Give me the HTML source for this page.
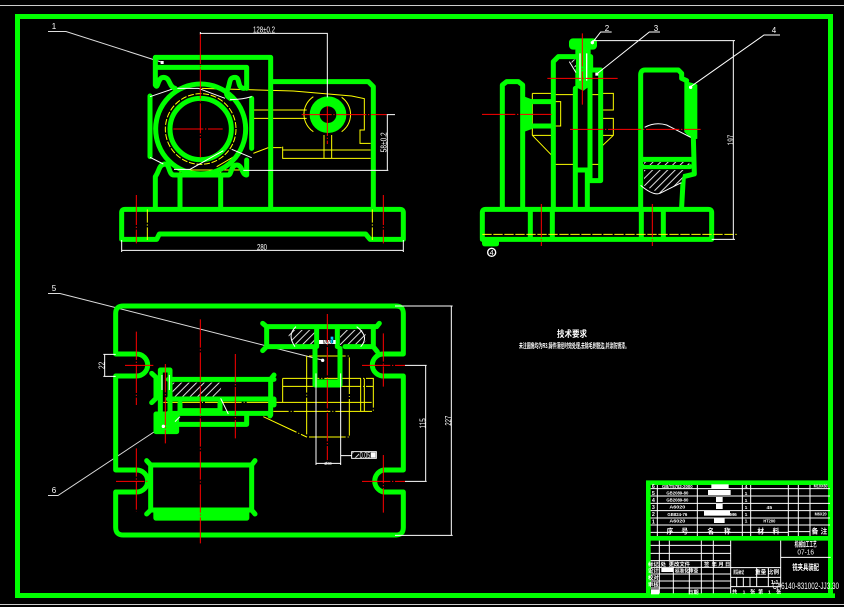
<!DOCTYPE html>
<html><head><meta charset="utf-8"><style>
html,body{margin:0;padding:0;background:#000;width:844px;height:607px;overflow:hidden}
svg{display:block}
text{font-family:"Liberation Sans","Noto Sans CJK SC",sans-serif;fill:#fff;text-anchor:middle}
.g{fill:none;stroke:#0f0;stroke-width:15;stroke-linecap:round;stroke-linejoin:round}
.f{fill:#0f0;stroke:#0f0;stroke-width:4;stroke-linejoin:round}
.w{fill:none;stroke:#fff;stroke-width:3}
.y{fill:none;stroke:#ff0;stroke-width:3}
.r{fill:none;stroke:#f00;stroke-width:3}
.rd{fill:none;stroke:#f00;stroke-width:3;stroke-dasharray:70 6 3 6}
.yd{fill:none;stroke:#ff0;stroke-width:3;stroke-dasharray:18 5}
.t{font-size:24px}
</style></head><body>
<svg width="844" height="607" viewBox="0 0 844 607" xmlns="http://www.w3.org/2000/svg">
<defs>
<pattern id="h" width="16" height="16" patternUnits="userSpaceOnUse" patternTransform="rotate(45)"><rect width="16" height="16" fill="#000"/><rect width="3" height="16" fill="#ddd"/></pattern>
</defs>
<rect width="844" height="607" fill="#000"/>
<line x1="0" y1="5.5" x2="844" y2="5.5" stroke="#ccc" stroke-width="1"/>
<line x1="0" y1="604.5" x2="844" y2="604.5" stroke="#ccc" stroke-width="1"/>
<rect x="17.5" y="16.5" width="813" height="579" fill="none" stroke="#0f0" stroke-width="5"/>

<!-- leaders real coords -->
<g fill="none" stroke="#ddd" stroke-width="1">
<path d="M48 31.5H66L161 62"/>
<path d="M48 293.5H60L322 360"/>
<path d="M48 495.5H58L163 426"/>
</g>
<g font-size="8">
<text x="54" y="29">1</text><text x="54" y="291">5</text><text x="54" y="493">6</text>
<text x="607" y="31">2</text><text x="656" y="31">3</text><text x="774" y="33">4</text>
</g>

<!-- FRONT VIEW -->
<g transform="translate(100,20) scale(.33333)">
<path class="y" d="M305 205L580 213L755 228L793 236V330H780V370H812M548 380V415H812M548 390H812M672 345V415M695 345V415M460 262V270H620M460 295H620M460 400L505 383H545M240 450H430M240 450V466M362 450V466M350 440L410 405"/>
<circle class="yd" cx="302" cy="327" r="106"/>
<path class="y" d="M640 230A63 63 0 0 0 640 335M725 335A63 63 0 0 0 725 232"/>
<path class="g" d="M166 112H512V560M166 142H440V205M166 112V195C175 210 172 172 190 172C212 172 205 200 225 205M432 205C410 205 422 172 405 172C385 172 392 190 382 210C375 225 385 232 392 236M512 185H805L820 200V560"/>
<path class="g" d="M166 470V560M240 470V560M362 470V560M166 470C180 450 175 435 195 432C210 432 205 465 222 465H385C395 465 392 435 410 435C428 435 425 465 440 465V420"/>
<path class="g" d="M150 228V410M455 235V385"/>
<circle class="g" cx="302" cy="327" r="135"/>
<circle class="g" cx="302" cy="327" r="92"/>
<circle class="g" cx="684" cy="284" r="40" style="stroke-width:30"/>
<path class="g" d="M65 658V578Q65 568 75 568H900Q910 568 910 578V658H810L797 642H178L170 658H65"/>
<path class="w" d="M150 230L215 208M232 205H295L375 235M390 238Q420 240 455 230M150 412L190 432M222 448H270L370 392M395 388L455 413"/>
<path class="w" d="M300 40H682V232M301 36V44M65 660V696M910 660V696M65 691H910M430 451H865M862 284V451M860 284H885"/>
<rect x="182" y="123" width="9" height="9" fill="#fff"/>
<path class="r" d="M301 42V412M220 327H368M605 284H860M682 258V372M109 525V670M850 525V670" stroke-dasharray="90 5 4 5"/>
<path class="y" d="M142 568V660M817 568V660" stroke-dasharray="40 5 4 5"/>
<text class="t" x="492" y="38" textLength="66" lengthAdjust="spacingAndGlyphs">128±0.2</text>
<text class="t" x="486" y="690" textLength="30" lengthAdjust="spacingAndGlyphs">280</text>
<text class="t" transform="translate(860,367) rotate(-90)" textLength="60" lengthAdjust="spacingAndGlyphs">58±0.2</text>
</g>

<!-- SIDE VIEW -->
<g transform="translate(470,20) scale(.33333)">
<path class="y" d="M187 220V346M187 220H250L256 224H316M360 224H392M392 220H430V270H390M390 295H430V346L390 384M187 346H255M390 346H430M187 346L255 416M252 433H316M360 433H392M252 245H272V318H252"/>
<path class="g" d="M97 560V195L110 185H145L158 195V560M250 560V125L265 110H318M362 110V150H392V482H360V150M316 205V560M316 450H352V560M512 560V165Q512 150 525 150H625L635 160V175L650 182M670 350L673 462L640 470L635 560M512 418H665M520 440H660M185 245H250M185 318H250"/>
<rect x="300" y="58" width="78" height="28" rx="9" class="g" style="fill:#0f0;stroke-width:6"/>
<path class="f" d="M318 90H360V195L340 210L318 200ZM158 230L185 240V325L158 335ZM645 185L680 195V355L662 352L645 335Z"/>
<path class="f" d="M38 655H85V672Q85 677 78 677H45Q38 677 38 670Z" />
<path fill="none" stroke="#fff" stroke-width="4" d="M330 100V182M350 100V182"/>
<path class="g" d="M37 655V578Q37 568 47 568H715Q725 568 725 578V658H37M181 568V658M247 568V658M514 568V658M580 568V658"/>
<path d="M300 120L318 118V148Z" fill="url(#h)"/>
<path d="M522 450H642L634 488L570 520L522 497Z" fill="url(#h)"/>
<rect x="522" y="426" width="136" height="9" fill="url(#h)"/>
<path class="w" d="M524 322Q555 305 590 315L662 352M298 125L318 158M512 496Q550 528 570 520Q600 505 634 488"/>
<path class="y" d="M37 643H800" stroke-dasharray="28 5"/>
<path class="r" d="M337 40V255M214 552V678M547 552V678M232 175H443M36 283H245M300 328H692" stroke-dasharray="100 5 4 5"/>
<path class="w" d="M367 68L392 36H425M380 162L538 36H570M662 200L882 45H930M367 62H795M725 658H795M790 62V658"/>
<circle cx="367" cy="68" r="5" fill="#fff"/><rect x="376" y="158" width="9" height="9" fill="#fff"/><circle cx="662" cy="202" r="5" fill="#fff"/>
<circle cx="65" cy="697" r="12" fill="none" stroke="#fff" stroke-width="4"/>
<text x="65" y="705" font-size="22">4</text>
<text class="t" transform="translate(790,360) rotate(-90)" textLength="32" lengthAdjust="spacingAndGlyphs">197</text>
</g>

<!-- TOP VIEW -->
<g transform="translate(100,290) scale(.33333)">
<path class="y" d="M620 198V441H748V198H620M548 265H820V364H520M548 265V337H815M548 289H820M782 265V364M793 265V364M190 337H815M490 380L620 441" stroke-dasharray="110 6 3 6"/>
<path d="M565 120H645V165H590Q565 150 565 130ZM720 120H785Q803 135 800 150Q790 165 780 165H720Z" fill="url(#h)"/>
<path d="M218 278H365L360 320H218Z" fill="url(#h)"/>
<path class="g" d="M47 192V70Q47 48 70 48H888Q910 48 910 70V192H850A33 33 0 0 0 850 258H910V540H850A34 34 0 0 0 850 606H910V712Q910 735 888 735H70Q47 735 47 712V606H110A33 33 0 0 0 110 540H47V258H110A33 33 0 0 0 110 192H47"/>
<path class="g" d="M488 100L500 110H830L838 100M500 110V170L488 182M500 170H640M820 110V170L832 185M735 170H820M650 115V170M712 115V170M645 175V285H720V175"/>
<path class="g" d="M155 250L168 262V325L155 338M181 240H210V420M181 240V372M205 268H522M512 268V375M522 255L512 268M205 327H522V345M240 340V362H360V340M205 370H510V378M168 372H230V425H168ZM230 403H440V378"/>
<path class="f" d="M640 270H725V288H640ZM165 380H230V428H165Z"/>
<path class="g" d="M140 512L152 525H455L465 512M152 525V660L140 672M455 525V660L465 672M152 660H455"/>
<rect x="162" y="655" width="284" height="35" rx="6" class="f"/>
<path class="w" d="M648 250V525M722 250V525M648 520H722M722 497H755M186 255V300M208 255V300M588 110Q560 135 585 170M770 110Q810 140 782 170M362 325L385 372M225 395L240 380"/>
<path class="w" d="M885 48H1058M885 736H1058M1054 48V736M915 226H980M915 574H980M977 226V574M10 193H47M10 259H47M14 193V259"/>
<rect x="657" y="150" width="50" height="12" fill="#fff"/><rect x="692" y="140" width="8" height="20" fill="#0cf"/>
<path class="r" d="M301 88V760M406 192V445M109 125V345M109 475V665M682 72V510M850 130V290M850 495V668M196 222V460M75 226H165M48 574H145M786 226H915M786 574H915" stroke-dasharray="85 5 4 5"/>
<rect x="755" y="485" width="74" height="20" fill="#000" stroke="#fff" stroke-width="3"/>
<rect x="757" y="487" width="20" height="16" fill="url(#h)"/>
<text class="t" x="795" y="504" textLength="32" lengthAdjust="spacingAndGlyphs">0.05</text>
<rect x="812" y="487" width="15" height="16" fill="#fff"/>
<text class="t" x="684" y="525" font-size="14" style="font-size:14px" textLength="22" lengthAdjust="spacingAndGlyphs">Ø30</text>
<text x="684" y="160" style="font-size:16px;fill:#000" textLength="30" lengthAdjust="spacingAndGlyphs">Ø20</text>
<text class="t" transform="translate(14,226) rotate(-90)" textLength="22" lengthAdjust="spacingAndGlyphs">22</text>
<text class="t" transform="translate(976,400) rotate(-90)" textLength="30" lengthAdjust="spacingAndGlyphs">115</text>
<text class="t" transform="translate(1053,392) rotate(-90)" textLength="30" lengthAdjust="spacingAndGlyphs">227</text>
<circle cx="668" cy="211" r="5" fill="#fff"/><circle cx="190" cy="409" r="5" fill="#fff"/>
</g>

<!-- NOTES -->
<text x="572" y="337" font-size="9" font-weight="bold" textLength="30" lengthAdjust="spacingAndGlyphs">技术要求</text>
<text x="574" y="348" font-size="7" font-weight="bold" textLength="110" lengthAdjust="spacingAndGlyphs">未注圆角均为R3,铸件须经时效处理,去除毛刺锐边,并涂防锈漆。</text>

<!-- TITLE BLOCK -->
<g transform="translate(640,470) scale(.33333)">
<path class="w" d="M25 56H570M25 78H570M25 100H570M25 122H570M25 144H570M25 165H570M25 187H445M445 185H510M52 40V198M172 40V198M307 40V198M332 40V198M445 40V198M475 40V198M510 40V198"/>
<path class="w" d="M25 226H272M25 250H272M25 272H272M25 292H272M25 312H272M25 333H272M25 354H272M58 205V378M88 205V270M100 292V378M148 292V378M184 205V378M220 205V378M272 205V378M272 293H422M272 322H422M272 350H422M350 293V350M385 293V350M290 322V350M310 322V350M330 322V350M422 205V350M422 262H572"/>
<path class="g" d="M25 38H572M25 205H572M25 38V375M0 377H578" style="stroke-width:14;stroke-linecap:square"/>
<rect x="204" y="60" width="68" height="15" fill="#fff"/><rect x="228" y="81" width="20" height="15" fill="#fff"/><rect x="228" y="102" width="20" height="15" fill="#fff"/>
<rect x="192" y="122" width="78" height="15" fill="#fff"/><rect x="222" y="144" width="32" height="15" fill="#fff"/><rect x="214" y="43" width="52" height="14" fill="#fff"/>
<rect x="64" y="294" width="36" height="12" fill="#fff"/><rect x="33" y="358" width="24" height="15" fill="#fff"/>
<g style="font-weight:bold">
<text x="40" y="54" style="font-size:16px">6</text><text x="40" y="75" style="font-size:16px">5</text><text x="40" y="96" style="font-size:16px">4</text><text x="40" y="117" style="font-size:16px">3</text><text x="40" y="138" style="font-size:16px">2</text><text x="40" y="160" style="font-size:16px">1</text>
<text x="112" y="54" style="font-size:15px" textLength="92" lengthAdjust="spacingAndGlyphs">GB/T5782-2000</text>
<text x="112" y="74" style="font-size:15px" textLength="66" lengthAdjust="spacingAndGlyphs">GB2089-80</text>
<text x="112" y="95" style="font-size:15px" textLength="66" lengthAdjust="spacingAndGlyphs">GB2089-80</text>
<text x="112" y="116" style="font-size:15px" textLength="48" lengthAdjust="spacingAndGlyphs">A6020</text>
<text x="112" y="138" style="font-size:15px" textLength="60" lengthAdjust="spacingAndGlyphs">GB824-76</text>
<text x="112" y="158" style="font-size:15px" textLength="48" lengthAdjust="spacingAndGlyphs">A6020</text>
<text x="318" y="54" style="font-size:15px">4</text><text x="318" y="75" style="font-size:15px">1</text><text x="318" y="96" style="font-size:15px">1</text><text x="318" y="117" style="font-size:15px">1</text><text x="318" y="138" style="font-size:15px">1</text><text x="318" y="158" style="font-size:15px">1</text>
<text x="388" y="117" style="font-size:15px">45</text>
<text x="388" y="158" style="font-size:15px" textLength="36" lengthAdjust="spacingAndGlyphs">HT200</text>
<text x="542" y="52" style="font-size:15px" textLength="42" lengthAdjust="spacingAndGlyphs">M10X60</text>
<text x="542" y="136" style="font-size:15px" textLength="36" lengthAdjust="spacingAndGlyphs">M6X20</text>
<text x="280" y="138" style="font-size:15px">M6</text>
<text x="90" y="190" style="font-size:20px">序</text><text x="134" y="190" style="font-size:20px">号</text><text x="212" y="190" style="font-size:20px">名</text><text x="262" y="190" style="font-size:20px">称</text><text x="362" y="190" style="font-size:20px">材</text><text x="408" y="190" style="font-size:20px">料</text><text x="525" y="190" style="font-size:20px">备</text><text x="552" y="190" style="font-size:20px">注</text>
<text x="497" y="230" style="font-size:20px" textLength="66" lengthAdjust="spacingAndGlyphs">机械加工工艺</text>
<text x="497" y="254" style="font-size:22px;font-weight:normal" textLength="50" lengthAdjust="spacingAndGlyphs">07-16</text>
<text x="497" y="300" style="font-size:24px" textLength="80" lengthAdjust="spacingAndGlyphs">铣夹具装配</text>
<text x="40" y="288" style="font-size:16px">标记</text><text x="70" y="288" style="font-size:16px">处</text><text x="118" y="288" style="font-size:16px">更改文件</text><text x="200" y="288" style="font-size:16px">签</text><text x="245" y="288" style="font-size:16px" letter-spacing="4">年月日</text>
<text x="40" y="308" style="font-size:16px">设计</text><text x="40" y="329" style="font-size:16px">校对</text><text x="40" y="350" style="font-size:16px">审核</text>
<text x="140" y="308" style="font-size:15px" textLength="70" lengthAdjust="spacingAndGlyphs">标准化审查</text>
<text x="296" y="312" style="font-size:15px" textLength="32" lengthAdjust="spacingAndGlyphs">阶段标记</text>
<text x="362" y="312" style="font-size:17px">重量</text><text x="400" y="312" style="font-size:17px">比例</text>
<text x="160" y="372" style="font-size:16px">日期</text>
<text x="284" y="370" style="font-size:15px">共</text><text x="312" y="370" style="font-size:15px">1</text><text x="338" y="370" style="font-size:15px">张</text><text x="362" y="370" style="font-size:15px">第</text><text x="388" y="370" style="font-size:15px">1</text><text x="416" y="370" style="font-size:15px">张</text>
<text x="404" y="342" style="font-size:16px">1:1</text>
</g>
<text x="497" y="357" style="font-size:27px" textLength="200" lengthAdjust="spacingAndGlyphs">CA6140-831002-JJ3.30</text>
</g>
</svg>
</body></html>
